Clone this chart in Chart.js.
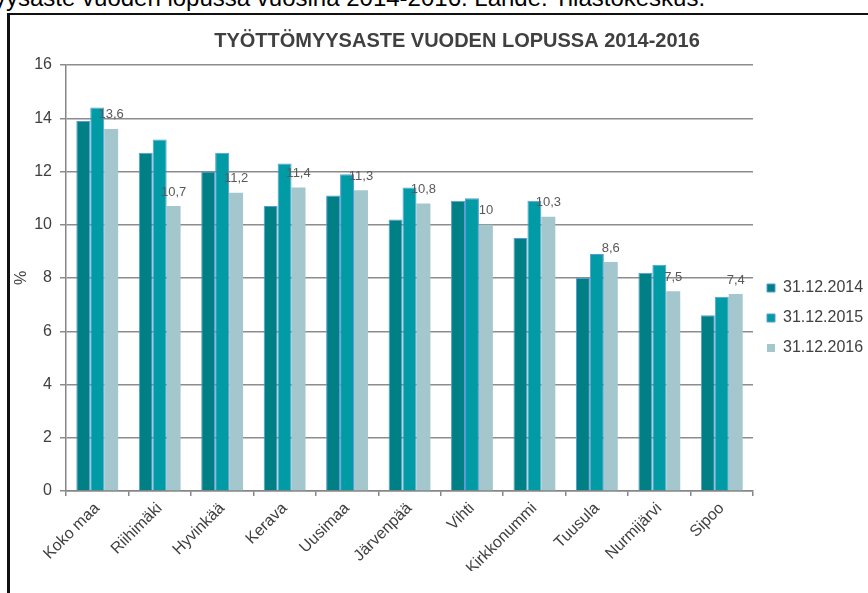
<!DOCTYPE html>
<html>
<head>
<meta charset="utf-8">
<script src="https://cdn.jsdelivr.net/npm/chart.js@4.4.0/dist/chart.umd.min.js"></script>
<style>
    html, body { margin: 0; padding: 0; width: 868px; height: 593px; overflow: hidden; background: #fff; }
    #caption { position: absolute; left: -6px; top: -14px; font: 24px "Liberation Sans", Arial, sans-serif; line-height: 24px; white-space: nowrap; color: #000; }
    #frame { position: absolute; left: 7px; top: 13px; width: 900px; height: 700px; border-left: 3px solid #111; border-top: 2px solid #111; }
    #chart_box { position: absolute; left: 0; top: 0; }
</style>
</head>
<body>
<div id="caption">yysaste vuoden lopussa vuosina 2014-2016. Lähde: Tilastokeskus.</div>
<div id="frame"></div>
<div id="chart_box"><canvas id="tyottomyys" width="868" height="593"></canvas></div>
<script>
var kunnat = ['Koko maa', 'Riihimäki', 'Hyvinkää', 'Kerava', 'Uusimaa', 'Järvenpää', 'Vihti', 'Kirkkonummi', 'Tuusula', 'Nurmijärvi', 'Sipoo'];
var v2014 = [13.9, 12.7, 12.0, 10.7, 11.1, 10.2, 10.9, 9.5, 8.0, 8.2, 6.6];
var v2015 = [14.4, 13.2, 12.7, 12.3, 11.9, 11.4, 11.0, 10.9, 8.9, 8.5, 7.3];
var v2016 = [13.6, 10.7, 11.2, 11.4, 11.3, 10.8, 10.0, 10.3, 8.6, 7.5, 7.4];
var sarjat = ['31.12.2014', '31.12.2015', '31.12.2016'];
var otsikko = 'TYÖTTÖMYYSASTE VUODEN LOPUSSA 2014-2016';

var fontti = '"Liberation Sans", Arial, sans-serif';

// otsikko piirretään itse, koska se ei ole keskellä kanvasta
var otsikkoPlugin = {
    id: 'otsikko',
    afterDraw: function (chart) {
        var ctx = chart.ctx;
        ctx.save();
        ctx.font = 'bold 20px ' + fontti;
        ctx.fillStyle = '#404040';
        ctx.textAlign = 'center';
        ctx.textBaseline = 'alphabetic';
        ctx.fillText(otsikko, 457, 47);
        ctx.restore();
    }
};

// arvot vain vuoden 2016 pylväiden päälle
var arvoPlugin = {
    id: 'arvot',
    afterDatasetsDraw: function (chart) {
        var ctx = chart.ctx;
        var meta = chart.getDatasetMeta(2);
        ctx.save();
        ctx.font = '13px ' + fontti;
        ctx.fillStyle = '#595959';
        ctx.textAlign = 'center';
        ctx.textBaseline = 'middle';
        meta.data.forEach(function (bar, i) {
            ctx.fillText(String(v2016[i]).replace('.', ','), bar.x, bar.y - 14);
        });
        ctx.restore();
    }
};

var config = {
    type: 'bar',
    data: {
        labels: kunnat,
        datasets: [{
            label: sarjat[0],
            data: v2014,
            backgroundColor: '#007f85',
            borderColor: '#5b9bd5',
            borderWidth: 1
        }, {
            label: sarjat[1],
            data: v2015,
            backgroundColor: '#009ba4',
            borderColor: '#5b9bd5',
            borderWidth: 1
        }, {
            label: sarjat[2],
            data: v2016,
            backgroundColor: '#a3c7cc',
            borderColor: '#a3c7cc',
            borderWidth: 0
        }]
    },
    options: {
        responsive: false,
        animation: false,
        layout: { padding: { top: 65, bottom: 22, left: 0, right: 0 } },
        datasets: { bar: { categoryPercentage: 0.67, barPercentage: 1 } },
        plugins: {
            title: { display: false },
            tooltip: { enabled: false },
            legend: {
                position: 'right',
                align: 'center',
                maxWidth: 115,
                labels: {
                    boxWidth: 8,
                    boxHeight: 8,
                    padding: 14,
                    color: '#404040',
                    font: { size: 16, family: fontti }
                }
            }
        },
        scales: {
            x: {
                grid: { display: true, drawOnChartArea: false, drawTicks: true, tickLength: 5, color: '#868686', lineWidth: 1.5, offset: true },
                border: { color: '#868686', width: 1.5 },
                ticks: { minRotation: 45, maxRotation: 45, autoSkip: false, color: '#404040', font: { size: 16, family: fontti } },
                afterFit: function (s) { s.height = 80; }
            },
            y: {
                min: 0,
                max: 16,
                ticks: { stepSize: 2, padding: 8, color: '#404040', font: { size: 16, family: fontti } },
                grid: { color: '#8c8c8c', lineWidth: 1.5, tickLength: 6 },
                border: { color: '#868686', width: 1.5 },
                title: { display: true, text: '%', color: '#404040', font: { size: 16, family: fontti }, padding: { top: 12, bottom: 0 } },
                afterFit: function (s) { s.width = 66; }
            }
        }
    },
    plugins: [otsikkoPlugin, arvoPlugin]
};

var ctx = document.getElementById('tyottomyys').getContext('2d');
window.tyottomyysChart = new Chart(ctx, config);
</script>
</body>
</html>
